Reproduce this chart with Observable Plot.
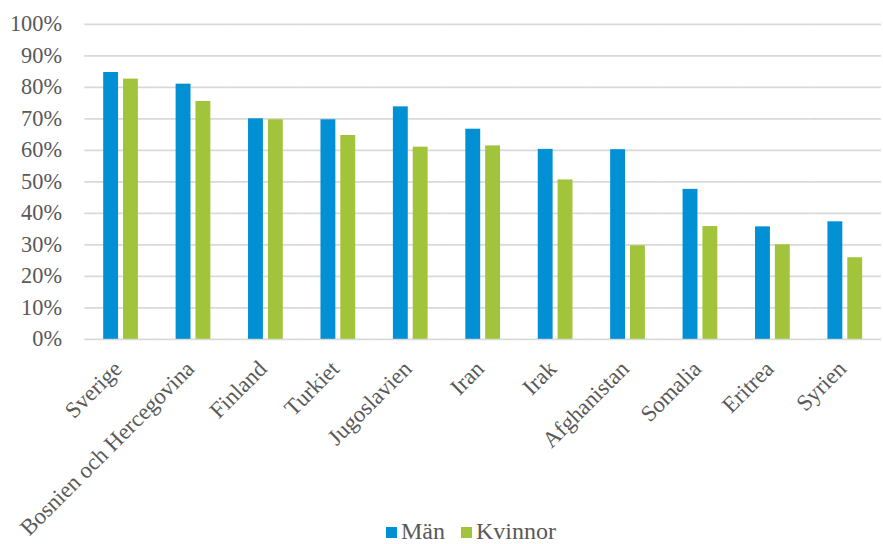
<!DOCTYPE html>
<html>
<head>
<meta charset="utf-8">
<script src="https://cdn.jsdelivr.net/npm/d3@7"></script>
<script src="https://cdn.jsdelivr.net/npm/@observablehq/plot@0.6"></script>
<style>
  html, body { margin: 0; padding: 0; background: #fff; }
  #wrap { position: relative; width: 883px; height: 544px; overflow: hidden; }
  #legend { position: absolute; left: 380px; top: 518px; }
</style>
</head>
<body>
<div id="wrap"><div id="chart"></div><div id="legend"></div></div>
<script>
const countries = ["Sverige", "Bosnien och Hercegovina", "Finland", "Turkiet", "Jugoslavien", "Iran", "Irak", "Afghanistan", "Somalia", "Eritrea", "Syrien"];
const man = [84.7, 81.0, 70.0, 69.7, 73.8, 66.7, 60.3, 60.2, 47.6, 35.7, 37.3];
const kvinnor = [82.6, 75.5, 69.7, 64.7, 61.0, 61.4, 50.6, 29.7, 35.8, 30.0, 25.9];
const series = ["Män", "Kvinnor"];
const colors = ["#0090D3", "#A1C43B"];
const yTicks = [0, 10, 20, 30, 40, 50, 60, 70, 80, 90, 100];

const data = [];
countries.forEach((c, i) => {
  data.push({country: c, sex: series[0], value: man[i]});
  data.push({country: c, sex: series[1], value: kvinnor[i]});
});

const FONT = "'Liberation Serif', 'Times New Roman', serif";

const chart = Plot.plot({
  width: 890,
  height: 544,
  marginTop: 24,
  marginBottom: 202.5,
  marginLeft: 83,
  marginRight: 0,
  style: {fontFamily: FONT, fontSize: "23px", color: "#595959", background: "transparent", overflow: "visible"},
  fx: {domain: countries, padding: 0, label: null, axis: null},
  x: {domain: series, paddingInner: 0.23, paddingOuter: 0.878, axis: null},
  y: {domain: [0, 100], axis: null},
  color: {domain: series, range: colors},
  marks: [
    Plot.ruleY(yTicks, {stroke: "#D9D9D9", strokeWidth: 1.7}),
    Plot.axisY(yTicks, {tickFormat: d => d + "%", tickSize: 0, tickPadding: 23, label: null, fontSize: 22.5}),
    Plot.axisFx({anchor: "bottom", tickRotate: -45, tickSize: 0, tickPadding: 26, dx: -3, label: null}),
    Plot.barY(data, {fx: "country", x: "sex", y: "value", fill: "sex"})
  ]
});
document.getElementById("chart").appendChild(chart);

// Legend (below the plot area)
const lg = d3.select("#legend").append("svg")
  .attr("width", 200).attr("height", 26)
  .style("font-family", FONT).style("font-size", "24px").style("fill", "#595959");
const offsets = [6, 81];
series.forEach((s, i) => {
  lg.append("rect").attr("x", offsets[i]).attr("y", 9).attr("width", 11).attr("height", 11).attr("fill", colors[i]);
  lg.append("text").attr("x", offsets[i] + 15).attr("y", 21).attr("fill", "#595959").text(s);
});
</script>
</body>
</html>
